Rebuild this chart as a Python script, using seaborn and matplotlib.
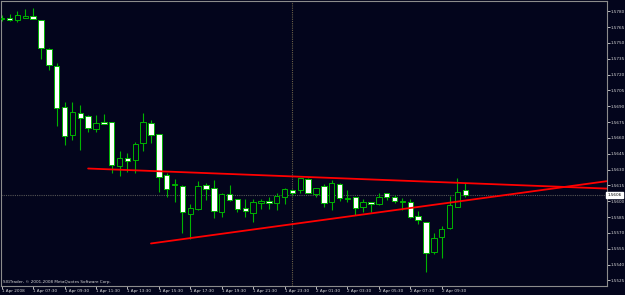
import numpy as np
import pandas as pd
import matplotlib
matplotlib.use("Agg")
import matplotlib.pyplot as plt
import matplotlib.transforms as mtransforms
import seaborn as sns

# GBPUSD-like M30 bars
opens = [1.5773, 1.5774, 1.5772, 1.5774, 1.5775, 1.5772, 1.5744, 1.5728, 1.5689, 1.5663,
         1.5684, 1.5681, 1.5668, 1.5675, 1.5675, 1.5633, 1.5641, 1.5639, 1.5655, 1.5674,
         1.5664, 1.5625, 1.5615, 1.5614, 1.5588, 1.5593, 1.5615, 1.5613, 1.5590, 1.5607,
         1.5602, 1.5594, 1.5589, 1.5598, 1.5600, 1.5598, 1.5604, 1.5611, 1.5611, 1.5621,
         1.5607, 1.5614, 1.5599, 1.5616, 1.5602, 1.5604, 1.5595, 1.5599, 1.5597, 1.5608,
         1.5604, 1.5599, 1.5599, 1.5586, 1.5580, 1.5552, 1.5566, 1.5575, 1.5595, 1.5611]
highs = [1.5776, 1.5777, 1.5780, 1.5782, 1.5783, 1.5772, 1.5745, 1.5731, 1.5694, 1.5694,
         1.5691, 1.5682, 1.5682, 1.5683, 1.5675, 1.5648, 1.5646, 1.5656, 1.5684, 1.5677,
         1.5664, 1.5627, 1.5621, 1.5615, 1.5597, 1.5619, 1.5617, 1.5620, 1.5608, 1.5615,
         1.5602, 1.5602, 1.5602, 1.5602, 1.5604, 1.5608, 1.5613, 1.5612, 1.5622, 1.5622,
         1.5613, 1.5616, 1.5620, 1.5617, 1.5611, 1.5604, 1.5602, 1.5599, 1.5608, 1.5608,
         1.5606, 1.5603, 1.5602, 1.5591, 1.5580, 1.5570, 1.5577, 1.5605, 1.5622, 1.5617]
lows = [1.5771, 1.5771, 1.5770, 1.5774, 1.5773, 1.5735, 1.5724, 1.5671, 1.5653, 1.5658,
        1.5649, 1.5666, 1.5666, 1.5673, 1.5627, 1.5624, 1.5628, 1.5627, 1.5648, 1.5655,
        1.5609, 1.5604, 1.5599, 1.5570, 1.5564, 1.5592, 1.5601, 1.5584, 1.5585, 1.5600,
        1.5590, 1.5585, 1.5580, 1.5593, 1.5593, 1.5592, 1.5597, 1.5606, 1.5608, 1.5608,
        1.5604, 1.5595, 1.5592, 1.5600, 1.5599, 1.5587, 1.5590, 1.5590, 1.5596, 1.5601,
        1.5598, 1.5592, 1.5584, 1.5578, 1.5533, 1.5550, 1.5546, 1.5574, 1.5595, 1.5604]
closes = [1.5774, 1.5772, 1.5776, 1.5775, 1.5773, 1.5745, 1.5729, 1.5688, 1.5662, 1.5685,
          1.5679, 1.5669, 1.5674, 1.5673, 1.5634, 1.5641, 1.5638, 1.5654, 1.5675, 1.5663,
          1.5623, 1.5612, 1.5616, 1.5590, 1.5594, 1.5614, 1.5612, 1.5591, 1.5607, 1.5601,
          1.5593, 1.5591, 1.5599, 1.5600, 1.5598, 1.5605, 1.5612, 1.5608, 1.5622, 1.5608,
          1.5613, 1.5598, 1.5617, 1.5603, 1.5602, 1.5594, 1.5599, 1.5597, 1.5604, 1.5604,
          1.5600, 1.5600, 1.5585, 1.5582, 1.5551, 1.5565, 1.5574, 1.5596, 1.5609, 1.5606]

time_labels = ["1 Apr 2008", "1 Apr 07:30", "1 Apr 09:30", "1 Apr 11:30", "1 Apr 13:30",
               "1 Apr 15:30", "1 Apr 17:30", "1 Apr 19:30", "1 Apr 21:30", "1 Apr 23:30",
               "2 Apr 01:30", "2 Apr 03:30", "2 Apr 05:30", "2 Apr 07:30", "2 Apr 09:30"]
price_ticks = [1.5780, 1.5765, 1.5750, 1.5735, 1.5720, 1.5705, 1.5690, 1.5675, 1.5660,
               1.5645, 1.5630, 1.5615, 1.5600, 1.5585, 1.5570, 1.5555, 1.5540, 1.5525]

upper_x = [11, 77]
upper_y = [1.5631, 1.5612]
lower_x = [19, 77]
lower_y = [1.5560, 1.5619]
last_price = 1.5606
cursor_bar = 37

bg = "#03051c"
green = "#00b400"
fg = "#d8d8d8"

sns.set_theme(style="dark", rc={"axes.facecolor": bg, "figure.facecolor": bg,
                                "axes.edgecolor": "#8c8c8c", "axes.grid": False})
plt.rcParams["font.family"] = ["DejaVu Sans"]

df = pd.DataFrame({"open": opens, "high": highs, "low": lows, "close": closes})
df["bar"] = np.arange(len(df))
bull = df["close"] >= df["open"]

fig = plt.figure(figsize=(6.25, 2.95), dpi=100)
ax = fig.add_axes([0.00208, 0.03153, 0.96864, 0.96339])

# cursor lines
ax.axhline(last_price, color="#555555", lw=0.8, ls=(0, (1, 1)), zorder=1)
ax.axvline(cursor_bar, color="#6a6048", lw=0.8, ls=(0, (1, 1)), zorder=1)

# candles
ax.vlines(df["bar"], df["low"], df["high"], color=green, lw=0.8, zorder=2)
body = (df["close"] - df["open"]).abs().clip(lower=0.00006)
bottom = df[["open", "close"]].min(axis=1)
ax.bar(df["bar"], body, bottom=bottom, width=0.7,
       color=np.where(bull, bg, "white"), edgecolor=green, lw=0.7, zorder=3)

# trend lines
sns.lineplot(x=upper_x, y=upper_y, color="#ff0000", lw=1.3, ax=ax, zorder=4)
sns.lineplot(x=lower_x, y=lower_y, color="#ff0000", lw=1.3, ax=ax, zorder=4)

ax.set_xlim(-0.05, 77.0)
ax.set_ylim(1.55200, 1.57892)

ax.yaxis.tick_right()
ax.set_yticks(price_ticks)
ax.set_yticklabels([f"{p:.4f}" for p in price_ticks])
ax.set_xticks(range(0, 4 * len(time_labels), 4))
ax.set_xticklabels(time_labels, ha="left")
ax.tick_params(axis="both", labelsize=3.0, colors=fg, length=2, width=0.6,
               direction="out", pad=1)
ax.tick_params(axis="y", right=True, left=False, pad=0.8)
ax.tick_params(axis="x", bottom=True, pad=0.6)
ax.set_xlabel("")
ax.set_ylabel("")
for s in ax.spines.values():
    s.set_linewidth(0.8)
    s.set_color("#8c8c8c")

# current price box
trans = mtransforms.blended_transform_factory(ax.transAxes, ax.transData)
ax.text(1.001, last_price, f"{last_price:.4f}", transform=trans, ha="left", va="center",
        fontsize=3.0, color="black",
        bbox=dict(boxstyle="square,pad=0.3", fc="white", ec="white"), zorder=6)

ax.text(0.003, 0.013, "SIGTrader, \u00a9 2001-2008 MetaQuotes Software Corp.",
        transform=ax.transAxes, ha="left", va="center", fontsize=3.0, color=fg)

fig.savefig("out.png", dpi=100, facecolor=bg)
